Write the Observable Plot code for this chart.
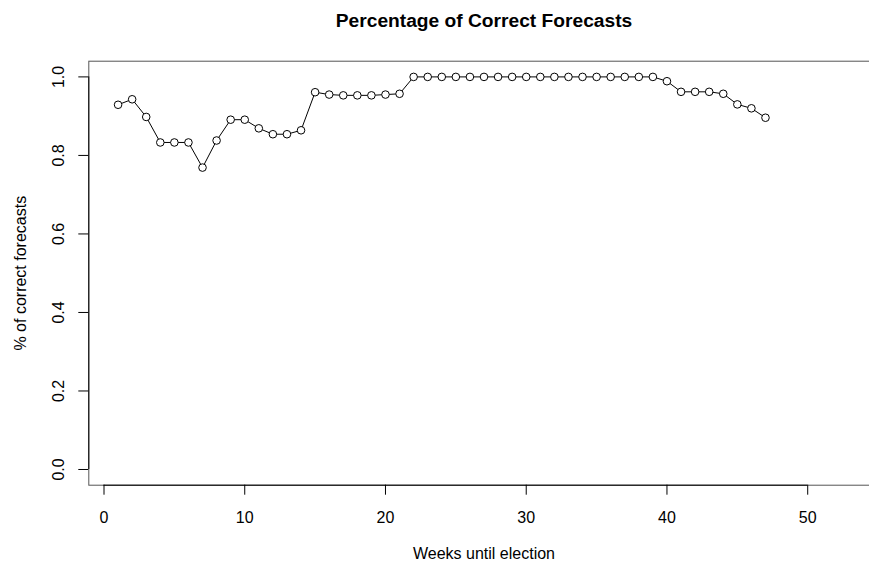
<!DOCTYPE html>
<html><head><meta charset="utf-8">
<script src="https://cdn.jsdelivr.net/npm/d3@7"></script>
<script src="https://cdn.jsdelivr.net/npm/@observablehq/plot@0.6"></script>
<style>
html,body{margin:0;padding:0;background:#fff;overflow:hidden;}
</style></head><body><div id="chart"></div>
<script>
const weeks = [1,2,3,4,5,6,7,8,9,10,11,12,13,14,15,16,17,18,19,20,21,22,23,24,25,26,27,28,29,30,31,32,33,34,35,36,37,38,39,40,41,42,43,44,45,46,47];
const pctCorrect = [
  0.929,0.943,0.898,0.833,0.833,0.833,0.769,0.838,0.891,0.891,
  0.869,0.854,0.854,0.864,0.961,0.955,0.953,0.953,0.953,0.955,
  0.957,1.000,1.000,1.000,1.000,1.000,1.000,1.000,1.000,1.000,
  1.000,1.000,1.000,1.000,1.000,1.000,1.000,1.000,1.000,0.989,
  0.962,0.962,0.962,0.957,0.930,0.920,0.896];
const xTicks = [0,10,20,30,40,50];
const xTickLabels = ["0","10","20","30","40","50"];
const yTicks = [0,0.2,0.4,0.6,0.8,1.0];
const yTickLabels = ["0.0","0.2","0.4","0.6","0.8","1.0"];
const xDomain = [-1.08, 55.08];
const yDomain = [-0.04, 1.04];
const titleText = "Percentage of Correct Forecasts";
const xLabel = "Weeks until election";
const yLabel = "% of correct forecasts";

const data = weeks.map((w, i) => ({week: w, pct: pctCorrect[i]}));
const font = "'Liberation Sans', Arial, Helvetica, sans-serif";

const chart = Plot.plot({
  width: 869, height: 563,
  marginTop: 60.7, marginBottom: 78.3, marginLeft: 88.3, marginRight: -9.7,
  style: {fontFamily: font, fontSize: "16px", background: "#fff", overflow: "hidden", color: "#000"},
  x: {domain: xDomain},
  y: {domain: yDomain},
  marks: [
    Plot.frame({stroke: "#555", strokeWidth: 1}),
    Plot.ruleY([yDomain[0]], {x1: xTicks[0], x2: xTicks[xTicks.length - 1], stroke: "#000"}),
    Plot.ruleX([xDomain[0]], {y1: yTicks[0], y2: yTicks[yTicks.length - 1], stroke: "#000"}),
    Plot.axisX({ticks: xTicks, tickSize: 10, tickFormat: () => "", label: null}),
    Plot.axisY({ticks: yTicks, tickSize: 10, tickFormat: () => "", label: null}),
    Plot.text(xTicks, {x: d => d, text: (d, i) => xTickLabels[i], frameAnchor: "bottom",
      textAnchor: "middle", lineAnchor: "middle", dy: 32.5, fontSize: 16}),
    Plot.text(yTicks, {y: d => d, text: (d, i) => yTickLabels[i], frameAnchor: "left", rotate: -90,
      textAnchor: "middle", lineAnchor: "middle", dx: -30.1, fontSize: 16}),
    Plot.text([xLabel], {text: d => d, frameAnchor: "bottom", textAnchor: "middle", lineAnchor: "middle",
      dy: 68.5, fontSize: 16}),
    Plot.text([yLabel], {text: d => d, frameAnchor: "left", rotate: -90, textAnchor: "middle", lineAnchor: "middle",
      dx: -68.4, fontSize: 16}),
    Plot.text([titleText], {text: d => d, frameAnchor: "top", textAnchor: "middle", lineAnchor: "middle",
      dy: -40.3, fontSize: 19.2, fontWeight: "bold"}),
    Plot.line(data, {x: "week", y: "pct", stroke: "#000", strokeWidth: 1}),
    Plot.dot(data, {x: "week", y: "pct", r: 3.8, stroke: "#000", fill: "#fff", strokeWidth: 1})
  ]
});
document.getElementById("chart").appendChild(chart);
</script>
</body></html>
